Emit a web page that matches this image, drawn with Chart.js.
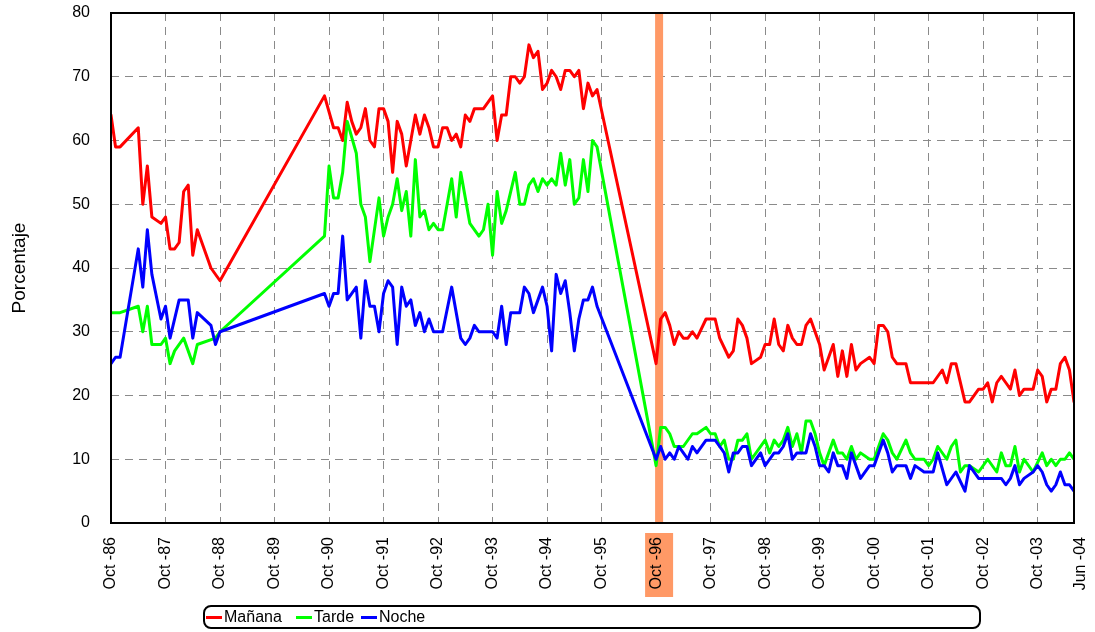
<!DOCTYPE html>
<html><head><meta charset="utf-8">
<script src="https://cdn.jsdelivr.net/npm/chart.js@4"></script>
<style>
html,body{margin:0;padding:0;background:#fff;}
#wrap{position:relative;width:1095px;height:632px;font-family:"Liberation Sans",Arial,sans-serif;}
#legend{position:absolute;left:203px;top:605px;width:774px;height:20px;border:2px solid #000;border-radius:8px;}
.item{position:absolute;top:0;height:20px;display:flex;align-items:center;font-size:16px;color:#000;white-space:nowrap;}
.swatch{display:inline-block;width:16px;height:3px;margin-right:2px;}
</style></head>
<body><div id="wrap"><canvas id="c" width="1095" height="632"></canvas><div id="legend"></div></div>
<script>
// month index: 0 = Oct-86
const months = [
 0,1,2,6,7,8,9,11,12,13,14,15,16,17,18,19,22,23,24,
 47,48,49,50,51,52,53,54,55,56,57,58,59,60,61,62,63,64,65,66,67,68,69,70,71,72,73,74,75,76,77,
 78,79,80,81,82,83,84,85,86,87,88,89,90,91,92,93,94,95,96,97,98,99,100,101,102,103,104,105,106,107,
 120,121,122,123,124,125,126,127,128,129,
 131,132,133,134,135,136,137,138,139,140,141,
 143,144,145,146,147,148,149,150,151,152,153,154,155,156,157,158,159,160,161,162,163,164,165,
 167,168,169,170,171,172,173,
 175,176,177,
 179,180,181,182,183,184,185,186,187,188,189,
 191,192,193,194,195,196,197,198,199,200,201,
 203,204,205,206,207,208,209,210,211,212
];
const manana = [
 64,59,59,62,50,56,48,47,48,43,43,44,52,53,42,46,40,null,38,
 67,null,62,62,60,66,63,61,62,65,60,59,65,65,63,55,63,61,56,null,64,61,64,62,59,59,62,62,60,61,59,
 64,63,65,null,65,null,67,60,64,64,70,70,69,70,75,73,74,68,69,71,70,68,71,71,70,71,65,69,67,68,
 25,32,33,31,28,30,29,29,30,29,
 32,null,32,29,null,26,27,32,31,29,25,
 26,28,28,32,28,27,31,29,28,28,31,32,null,28,24,null,28,23,27,23,28,24,25,
 26,25,31,31,30,26,25,
 25,22,null,
 null,null,22,null,24,22,25,25,null,19,19,
 21,21,22,19,22,23,22,21,24,20,21,
 21,24,23,19,21,21,25,26,24,19
];
const tarde = [
 33,null,33,34,30,34,28,28,29,25,27,null,29,null,25,28,null,29,30,
 45,56,51,51,55,63,null,58,50,48,41,null,51,45,48,50,54,49,52,45,57,48,49,46,47,46,46,null,54,48,55,
 null,47,null,45,46,50,42,52,47,49,null,55,50,50,53,54,52,54,53,54,53,58,53,57,50,51,57,52,60,59,
 9,15,15,14,12,null,12,null,14,14,
 15,14,14,12,13,10,10,13,13,14,10,
 null,13,11,13,12,13,15,12,14,11,16,16,14,11,9,null,13,11,11,10,12,10,11,
 10,10,null,14,13,11,10,
 13,11,10,
 10,9,10,12,null,10,12,13,8,9,9,
 8,null,10,null,8,11,9,9,12,8,10,
 8,null,11,9,10,9,10,10,11,10
];
const noche = [
 25,26,26,43,37,46,39,32,34,29,null,35,null,35,29,33,31,28,30,
 36,34,36,36,45,35,null,37,29,38,34,34,30,36,38,37,28,37,34,35,31,33,30,32,30,null,30,null,37,null,29,
 28,29,31,30,null,null,30,29,34,28,33,null,33,37,36,33,35,37,34,27,39,36,38,33,27,32,35,35,37,34,
 10,12,10,11,10,12,11,10,12,11,
 13,null,13,12,11,8,11,11,12,12,9,
 11,9,10,11,11,12,14,10,11,11,11,14,12,9,9,8,11,9,9,7,11,9,7,
 9,9,null,13,11,8,9,
 9,7,9,
 8,null,8,11,null,6,null,8,null,5,9,
 7,null,7,null,7,7,6,7,9,6,7,
 8,9,8,6,5,6,8,6,6,5
];
const seriesNames = ['Mañana','Tarde','Noche'];
const seriesColors = ['#FF0000','#00FF00','#0000FF'];
const tickMonths = [0,12,24,36,48,60,72,84,96,108,120,132,144,156,168,180,192,204,213.5];
const tickLabels = ['Oct -86','Oct -87','Oct -88','Oct -89','Oct -90','Oct -91','Oct -92','Oct -93','Oct -94','Oct -95',
 'Oct -96','Oct -97','Oct -98','Oct -99','Oct -00','Oct -01','Oct -02','Oct -03','Jun -04'];
const yTicks = [0,10,20,30,40,50,60,70,80];
const highlightMonth = 120;
const axisMax = 212;

function toPoints(vals){
  const out=[];
  vals.forEach((v,i)=>{ if(v!==null) out.push({x:months[i], y:v}); });
  return out;
}
const allSeries=[manana,tarde,noche];

Chart.defaults.font.family='"Liberation Sans", Arial, sans-serif';
Chart.defaults.font.size=16;
Chart.defaults.color='#000';

const deco={
  id:'deco',
  beforeDraw(chart){
    const {ctx,chartArea:a,scales:{x}}=chart;
    const px=x.getPixelForValue(highlightMonth);
    ctx.save();ctx.fillStyle='#FF9966';
    ctx.fillRect(px-11,a.bottom+10,28,64);
    ctx.restore();
  },
  beforeDatasetsDraw(chart){
    const {ctx,chartArea:a,scales:{x}}=chart;
    const px=x.getPixelForValue(highlightMonth);
    ctx.save();ctx.fillStyle='#FF9966';
    ctx.fillRect(px-1,a.top,8,a.bottom-a.top);
    ctx.restore();
  },
  afterDraw(chart){
    const {ctx,chartArea:a}=chart;
    ctx.save();ctx.strokeStyle='#000';ctx.lineWidth=2;ctx.setLineDash([]);
    ctx.strokeRect(a.left,a.top,a.right-a.left,a.bottom-a.top);
    ctx.restore();
  }
};

new Chart(document.getElementById('c'),{
  type:'line',
  data:{datasets:allSeries.map((s,i)=>({
    label:seriesNames[i], data:toPoints(s), borderColor:seriesColors[i], backgroundColor:seriesColors[i],
    borderWidth:3, pointRadius:0, tension:0, fill:false, order:2-i,
    borderJoinStyle:'round', borderCapStyle:'round'
  }))},
  options:{
    responsive:false, animation:false,
    layout:{padding:{left:0,top:13,right:21,bottom:0}},
    plugins:{legend:{display:false},tooltip:{enabled:false}},
    scales:{
      x:{type:'linear',min:0,max:axisMax,
        afterBuildTicks(s){ s.ticks=tickMonths.map(v=>({value:v})); },
        afterFit(s){ s.height=109; s.paddingLeft=0; s.paddingRight=0; s.paddingTop=0; s.paddingBottom=0; },
        ticks:{autoSkip:false,maxRotation:90,minRotation:90,padding:14,font:{size:16},color:'#000',
          callback:(v,i)=>tickLabels[i]},
        grid:{drawTicks:false,lineWidth:1,
          color:(c)=> (c.tick && c.tick.value>axisMax) ? 'rgba(0,0,0,0)' : '#8a8a8a'},
        border:{display:false,dash:[8,6]}
      },
      y:{min:0,max:80,
        afterBuildTicks(s){ s.ticks=yTicks.map(v=>({value:v})); },
        afterFit(s){ s.width=111; s.paddingLeft=0; s.paddingRight=0; s.paddingTop=0; s.paddingBottom=0; },
        ticks:{padding:21,font:{size:16},color:'#000'},
        grid:{drawTicks:false,lineWidth:1,color:'#8a8a8a'},
        border:{display:false,dash:[8,6]},
        title:{display:true,text:'Porcentaje',font:{size:19},color:'#000',padding:{top:8,bottom:0}}
      }
    }
  },
  plugins:[deco]
});

const lg=document.getElementById('legend');
const lefts=[1,91,156];
seriesNames.forEach((n,i)=>{
  const d=document.createElement('div');d.className='item';d.style.left=lefts[i]+'px';
  const sw=document.createElement('span');sw.className='swatch';sw.style.background=seriesColors[i];
  d.appendChild(sw);d.appendChild(document.createTextNode(n));lg.appendChild(d);
});
</script>
</body></html>
